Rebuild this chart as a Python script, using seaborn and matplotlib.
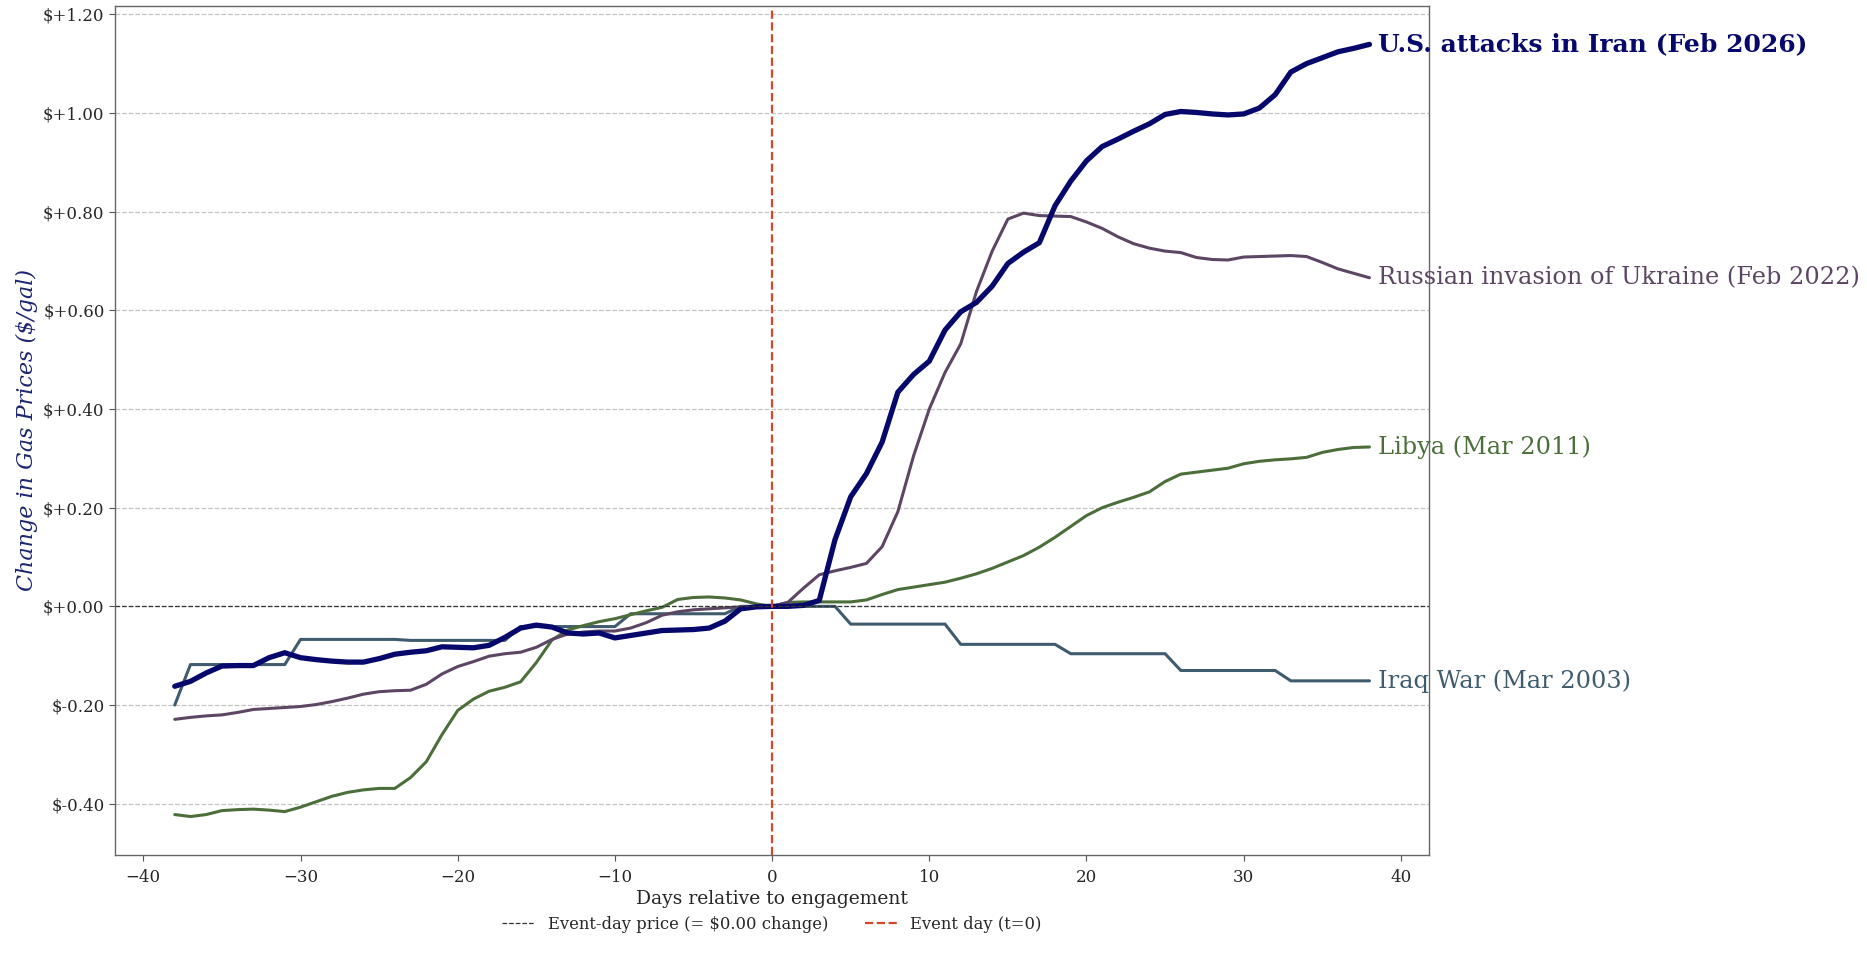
import matplotlib
matplotlib.use("Agg")
import matplotlib.pyplot as plt
import numpy as np
import pandas as pd
import seaborn as sns
from matplotlib.ticker import FuncFormatter, MultipleLocator

days = list(range(-38, 39))

iran = [-0.162, -0.152, -0.135, -0.121, -0.120, -0.120, -0.104, -0.094, -0.104, -0.108,
        -0.111, -0.113, -0.113, -0.106, -0.097, -0.093, -0.090, -0.082, -0.083, -0.084,
        -0.079, -0.063, -0.044, -0.038, -0.042, -0.054, -0.056, -0.054, -0.064, -0.059,
        -0.054, -0.049, -0.048, -0.047, -0.044, -0.030, -0.005, -0.001, 0.0,
        0.0, 0.002, 0.012, 0.135, 0.222, 0.269, 0.333, 0.434, 0.470, 0.497,
        0.560, 0.597, 0.616, 0.649, 0.695, 0.718, 0.737, 0.812, 0.862, 0.903,
        0.932, 0.947, 0.963, 0.978, 0.997, 1.003, 1.001, 0.998, 0.996, 0.998,
        1.010, 1.037, 1.083, 1.100, 1.112, 1.124, 1.131, 1.139]

russia = [-0.229, -0.225, -0.222, -0.220, -0.215, -0.209, -0.207, -0.205, -0.203, -0.199,
          -0.193, -0.186, -0.178, -0.173, -0.171, -0.170, -0.158, -0.137, -0.122, -0.112,
          -0.101, -0.096, -0.093, -0.083, -0.067, -0.056, -0.052, -0.050, -0.050, -0.044,
          -0.033, -0.018, -0.011, -0.007, -0.005, -0.003, -0.001, 0.0, 0.0,
          0.008, 0.037, 0.064, 0.072, 0.079, 0.087, 0.121, 0.192, 0.305, 0.400,
          0.474, 0.532, 0.638, 0.720, 0.785, 0.797, 0.792, 0.791, 0.790, 0.779,
          0.766, 0.749, 0.735, 0.726, 0.720, 0.717, 0.707, 0.703, 0.702, 0.708,
          0.709, 0.710, 0.711, 0.709, 0.697, 0.684, 0.675, 0.666]

libya = [-0.422, -0.426, -0.422, -0.414, -0.412, -0.411, -0.413, -0.416, -0.407, -0.396,
         -0.385, -0.377, -0.372, -0.369, -0.369, -0.347, -0.315, -0.260, -0.211, -0.188,
         -0.172, -0.164, -0.153, -0.114, -0.068, -0.048, -0.039, -0.031, -0.025, -0.017,
         -0.009, -0.002, 0.014, 0.018, 0.019, 0.017, 0.013, 0.005, 0.0,
         0.008, 0.009, 0.009, 0.009, 0.009, 0.013, 0.024, 0.034, 0.039, 0.044,
         0.049, 0.057, 0.066, 0.077, 0.090, 0.103, 0.120, 0.140, 0.162, 0.184,
         0.200, 0.211, 0.221, 0.232, 0.253, 0.268, 0.272, 0.276, 0.280, 0.289,
         0.294, 0.297, 0.299, 0.302, 0.312, 0.318, 0.322, 0.323]

iraq = [-0.200, -0.118, -0.118, -0.118, -0.118, -0.118, -0.118, -0.118, -0.067, -0.067,
        -0.067, -0.067, -0.067, -0.067, -0.067, -0.069, -0.069, -0.069, -0.069, -0.069,
        -0.069, -0.069, -0.041, -0.041, -0.041, -0.041, -0.041, -0.041, -0.041, -0.015,
        -0.015, -0.015, -0.015, -0.015, -0.015, -0.015, 0.0, 0.0, 0.0,
        0.0, 0.0, 0.0, 0.0, -0.036, -0.036, -0.036, -0.036, -0.036, -0.036,
        -0.036, -0.077, -0.077, -0.077, -0.077, -0.077, -0.077, -0.077, -0.096, -0.096,
        -0.096, -0.096, -0.096, -0.096, -0.096, -0.130, -0.130, -0.130, -0.130, -0.130,
        -0.130, -0.130, -0.151, -0.151, -0.151, -0.151, -0.151, -0.151]

labels = ["Iraq War (Mar 2003)", "Libya (Mar 2011)",
          "Russian invasion of Ukraine (Feb 2022)", "U.S. attacks in Iran (Feb 2026)"]
colors = ["#3f5b6e", "#4b6e3a", "#5d4664", "#07086b"]
widths = [2.2, 2.2, 2.2, 3.8]

series = [iraq, libya, russia, iran]

sns.set_style("white")
plt.rcParams["font.family"] = ["DejaVu Serif"]

fig, ax = plt.subplots(figsize=(18.67, 9.63), dpi=100)
fig.subplots_adjust(left=0.0616, right=0.7655, bottom=0.112, top=0.994)

ax.grid(axis="y", linestyle="--", color="#c4c4c4", linewidth=0.9)
ax.set_axisbelow(True)

for vals, lab, col, lw in zip(series, labels, colors, widths):
    df = pd.DataFrame({"day": days, "change": vals})
    sns.lineplot(data=df, x="day", y="change", color=col, linewidth=lw, ax=ax)
    if lw > 3:
        ax.annotate(lab, xy=(days[-1], vals[-1]), xytext=(6, 0), textcoords="offset points",
                    va="center", ha="left", color=col, fontsize=18, fontweight="bold",
                    annotation_clip=False)
    else:
        ax.annotate(lab, xy=(days[-1], vals[-1]), xytext=(6, 0), textcoords="offset points",
                    va="center", ha="left", color=col, fontsize=17.3,
                    annotation_clip=False)

zl = ax.axhline(0, color="#333333", linestyle="--", linewidth=0.9,
                label="Event-day price (= $0.00 change)")
el = ax.axvline(0, color="#d5472b", linestyle="--", linewidth=1.6, label="Event day (t=0)")

ax.set_xticks([-40, -30, -20, -10, 0, 10, 20, 30, 40])
ax.yaxis.set_major_locator(MultipleLocator(0.2))


def money(v, pos):
    if abs(v) < 1e-9:
        v = 0.0
    return "$" + format(v, "+.2f")


ax.yaxis.set_major_formatter(FuncFormatter(money))
ax.tick_params(axis="both", labelsize=12, length=4, color="#555555", direction="out",
               bottom=True, left=True)
ax.tick_params(axis="x", pad=6)
for sp in ax.spines.values():
    sp.set_color("#666666")
    sp.set_linewidth(1.0)

ax.set_xlabel("Days relative to engagement", fontsize=13.5, labelpad=3)
ax.set_ylabel("Change in Gas Prices ($/gal)", fontsize=16, fontstyle="italic", color="#1c2670")

fig.legend(handles=[zl, el], loc="center", bbox_to_anchor=(0.4135, 0.040), ncol=2,
           frameon=False, fontsize=11.8, handlelength=2.0, columnspacing=2.2)

fig.savefig("out.png", dpi=100)
